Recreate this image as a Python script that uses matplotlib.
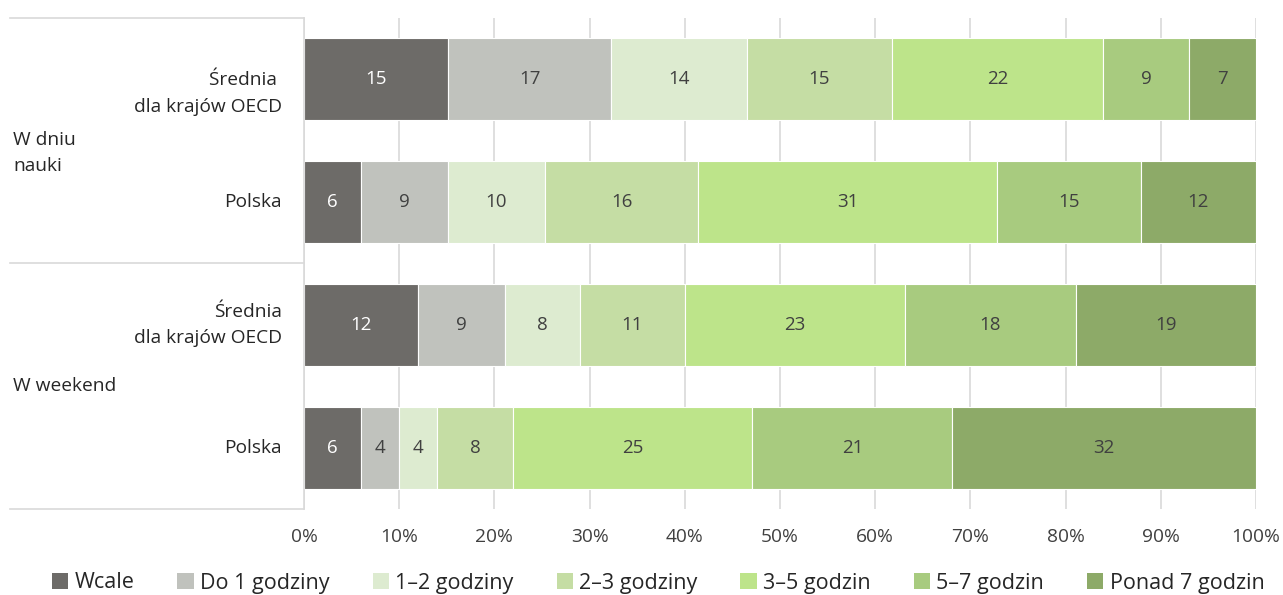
import matplotlib
matplotlib.use('Agg')
import matplotlib.pyplot as plt
from matplotlib.lines import Line2D
from matplotlib.patches import Patch
import matplotlib.ticker as mticker

# =============================================================================
# DATA
# =============================================================================

rows = ['Średnia \ndla krajów OECD', 'Polska', 'Średnia\ndla krajów OECD', 'Polska']
groups = ['W dniu\nnauki', 'W weekend']
series = ['Wcale', 'Do 1 godziny', '1–2 godziny', '2–3 godziny',
          '3–5 godzin', '5–7 godzin', 'Ponad 7 godzin']

# percent values per row (order = series)
oecd_day = [15.1, 17.2, 14.2, 15.3, 22.1, 9.1, 7.0]
pl_day = [6.0, 9.1, 10.2, 16.1, 31.4, 15.1, 12.1]
oecd_weekend = [12.0, 9.1, 7.9, 11.0, 23.1, 18.0, 18.9]
pl_weekend = [6.0, 4.0, 4.0, 8.0, 25.1, 21.0, 31.9]

COLORS = ['#6D6B68', '#C0C2BD', '#DDEBD0', '#C5DDA4', '#BDE48A', '#A8CB7F', '#8DAA68']
LABEL_COLORS = ['white'] + ['#404040'] * 6

FONT = ['Open Sans', 'DejaVu Sans']
FS = 13.8

plt.rcParams['font.family'] = FONT

W, H = 1283, 595
fig = plt.figure(figsize=(W / 100, H / 100), dpi=100)
ax = fig.add_axes([304 / W, 1 - 509 / H, (1256 - 304) / W, (509 - 18) / H])

data = [oecd_day, pl_day, oecd_weekend, pl_weekend]
for i, vals in enumerate(data):
    left = 0.0
    for j, v in enumerate(vals):
        ax.barh(i, v, left=left, height=0.667, color=COLORS[j],
                edgecolor='white', linewidth=0.8, zorder=2)
        ax.text(left + v / 2, i, f'{v:.0f}', ha='center', va='center',
                color=LABEL_COLORS[j], fontsize=13.5, zorder=3)
        left += v

ax.set_xlim(0, 100)
ax.set_ylim(3.5, -0.5)
ax.set_xticks(range(0, 101, 10))
ax.xaxis.set_major_formatter(mticker.FuncFormatter(lambda x, p: f'{x:.0f}%'))
ax.tick_params(axis='x', length=0, labelsize=FS, labelcolor='#404040', pad=14)
ax.set_yticks([])
ax.grid(axis='x', color='#D9D9D9', linewidth=1.2, zorder=0)
for s in ax.spines.values():
    s.set_visible(False)

# row labels (first one sits a bit low in the original)
offsets = [0.115, 0, 0, 0]
for i, r in enumerate(rows):
    ax.text(-0.023, i + offsets[i], r, transform=ax.get_yaxis_transform(),
            ha='right', va='center', fontsize=FS, color='#262626',
            multialignment='right', linespacing=1.6)

# group labels + table lines on the left
fig.text(13 / W, 1 - 153 / H, groups[0], ha='left', va='center', fontsize=FS,
         color='#262626', linespacing=1.6)
fig.text(13 / W, 1 - 386 / H, groups[1], ha='left', va='center', fontsize=FS,
         color='#262626')
line_col = '#D9D9D9'
for y in [18, 263, 509]:
    fig.add_artist(Line2D([10 / W, 304 / W], [1 - y / H, 1 - y / H], color=line_col, lw=1.2))
fig.add_artist(Line2D([304 / W, 304 / W], [1 - 18 / H, 1 - 509 / H], color=line_col, lw=1.2))

# legend
handles = [Patch(facecolor=c, edgecolor='none') for c in COLORS]
fig.legend(handles, series, loc='center', bbox_to_anchor=(0.513, 1 - 583 / H), ncol=7,
           frameon=False, prop={'size': 15.5},
           handlelength=0.75, handleheight=0.75, handletextpad=0.3, columnspacing=2.0,
           labelcolor='#262626')

fig.savefig('out.png', dpi=100)
